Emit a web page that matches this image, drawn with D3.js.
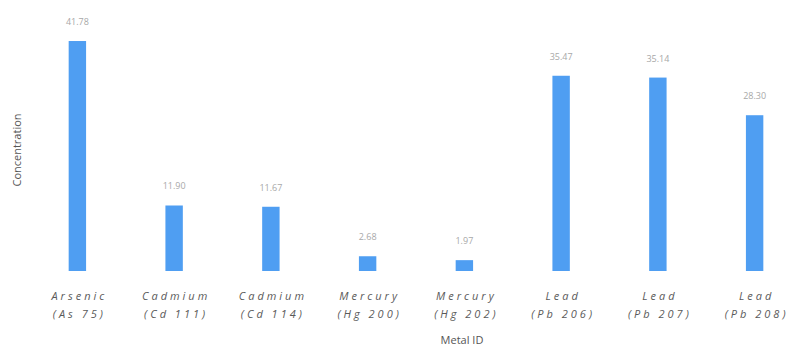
<!DOCTYPE html>
<html>
<head>
<meta charset="utf-8">
<script src="https://cdn.jsdelivr.net/npm/d3@7"></script>
<style>
  body { margin: 0; background: #fff; }
  text { font-family: "Open Sans", sans-serif; }
</style>
</head>
<body>
<svg id="chart" width="791" height="348"></svg>
<script>
// metal names and isotope labels, one bar per metal
var metals = ["Arsenic", "Cadmium", "Cadmium", "Mercury", "Mercury", "Lead", "Lead", "Lead"];
var isotopes = ["(As 75)", "(Cd 111)", "(Cd 114)", "(Hg 200)", "(Hg 202)", "(Pb 206)", "(Pb 207)", "(Pb 208)"];
var concentrations = [41.78, 11.90, 11.67, 2.68, 1.97, 35.47, 35.14, 28.30];

var svg = d3.select("#chart");
var baseline = 271;

var x = d3.scaleBand()
    .domain(d3.range(metals.length))
    .range([29, 803])
    .paddingInner(0.82)
    .paddingOuter(0.41);

var y = d3.scaleLinear()
    .domain([0, 45])
    .range([baseline, 23.3]);

var g = svg.append("g").attr("class", "content");

g.selectAll("rect.bar")
    .data(concentrations)
    .enter().append("rect")
    .attr("class", "bar")
    .attr("x", function (d, i) { return x(i); })
    .attr("y", function (d) { return y(d); })
    .attr("width", x.bandwidth())
    .attr("height", function (d) { return baseline - y(d); })
    .attr("fill", "#4f9ef2");

g.selectAll("text.value")
    .data(concentrations)
    .enter().append("text")
    .attr("class", "value")
    .attr("x", function (d, i) { return x(i) + x.bandwidth() / 2; })
    .attr("y", function (d) { return y(d) - 16; })
    .attr("text-anchor", "middle")
    .attr("font-size", 9)
    .attr("fill", "#a8a8a8")
    .text(function (d) { return d.toFixed(2); });

// category labels, two lines each
var labels = g.selectAll("text.cat")
    .data(metals)
    .enter().append("text")
    .attr("class", "cat")
    .attr("text-anchor", "middle")
    .attr("font-size", 11)
    .attr("font-style", "italic")
    .attr("letter-spacing", 3)
    .attr("fill", "#5a5a5a");
labels.append("tspan")
    .attr("x", function (d, i) { return x(i) + x.bandwidth() / 2 + 2; })
    .attr("y", 300)
    .text(function (d) { return d; });
labels.append("tspan")
    .attr("x", function (d, i) { return x(i) + x.bandwidth() / 2 + 2; })
    .attr("y", 318)
    .text(function (d, i) { return isotopes[i]; });

svg.append("text")
    .attr("x", 462)
    .attr("y", 344)
    .attr("text-anchor", "middle")
    .attr("font-size", 11)
    .attr("fill", "#555")
    .text("Metal ID");

svg.append("text")
    .attr("transform", "translate(21,150) rotate(-90)")
    .attr("text-anchor", "middle")
    .attr("font-size", 11)
    .attr("fill", "#555")
    .text("Concentration");
</script>
</body>
</html>
